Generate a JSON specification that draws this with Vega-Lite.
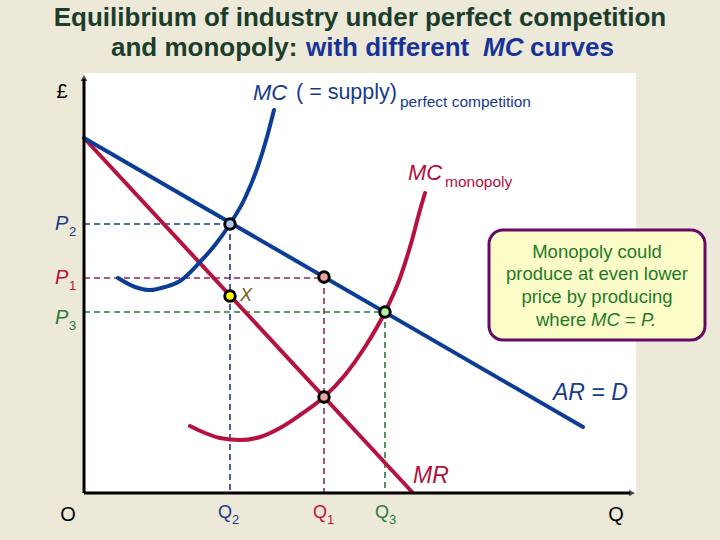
{
  "$schema": "https://vega.github.io/schema/vega-lite/v6.json",
  "width": 720,
  "height": 540,
  "autosize": {"type": "none"},
  "padding": 0,
  "background": "#ece9d8",
  "config": {"view": {"stroke": null}, "font": "Liberation Sans", "text": {"font": "Liberation Sans", "baseline": "middle"}},
  "datasets": {
    "area": [{"q": 0, "p": 0, "q2": 552, "p2": 420}],
    "ar": [{"q": 0, "p": 355}, {"q": 499, "p": 66}],
    "mr": [{"q": 0, "p": 355}, {"q": 329, "p": 0}],
    "mcpc": [
      {"q": 34, "p": 215}, {"q": 51, "p": 206}, {"q": 66, "p": 203}, {"q": 81, "p": 206},
      {"q": 96, "p": 212}, {"q": 116, "p": 231}, {"q": 131, "p": 248}, {"q": 146, "p": 269},
      {"q": 161, "p": 295}, {"q": 174, "p": 327}, {"q": 183, "p": 356}, {"q": 190, "p": 383}
    ],
    "mcm": [
      {"q": 106, "p": 67}, {"q": 121, "p": 60}, {"q": 136, "p": 55}, {"q": 156, "p": 53},
      {"q": 176, "p": 56}, {"q": 196, "p": 65}, {"q": 216, "p": 78}, {"q": 240, "p": 96},
      {"q": 261, "p": 118}, {"q": 281, "p": 146}, {"q": 301, "p": 181}, {"q": 316, "p": 215},
      {"q": 328, "p": 253}, {"q": 336, "p": 283}, {"q": 341, "p": 300}
    ]
  },
  "encoding": {
    "x": {"field": "q", "type": "quantitative", "scale": {"domain": [-84, 636], "nice": false, "zero": false}, "axis": null},
    "y": {"field": "p", "type": "quantitative", "scale": {"domain": [-47, 493], "nice": false, "zero": false}, "axis": null}
  },
  "layer": [
    {"data": {"name": "area"}, "mark": {"type": "rect", "fill": "#ffffff"},
     "encoding": {"x2": {"field": "q2"}, "y2": {"field": "p2"}}},

    {"data": {"values": [{"q": 0, "p": 269, "q2": 146, "p2": 269}, {"q": 146, "p": 269, "q2": 146, "p2": 0}]},
     "mark": {"type": "rule", "stroke": "#1a3a8a", "strokeWidth": 1.6, "strokeDash": [6, 4]},
     "encoding": {"x2": {"field": "q2"}, "y2": {"field": "p2"}}},
    {"data": {"values": [{"q": 0, "p": 215, "q2": 240, "p2": 215}, {"q": 240, "p": 215, "q2": 240, "p2": 0}]},
     "mark": {"type": "rule", "stroke": "#8a2a55", "strokeWidth": 1.6, "strokeDash": [6, 4]},
     "encoding": {"x2": {"field": "q2"}, "y2": {"field": "p2"}}},
    {"data": {"values": [{"q": 0, "p": 181, "q2": 301, "p2": 181}, {"q": 301, "p": 181, "q2": 301, "p2": 0}]},
     "mark": {"type": "rule", "stroke": "#2a7a3a", "strokeWidth": 1.6, "strokeDash": [6, 4]},
     "encoding": {"x2": {"field": "q2"}, "y2": {"field": "p2"}}},

    {"data": {"name": "mcm"}, "mark": {"type": "line", "stroke": "#b5123f", "strokeWidth": 4, "interpolate": "monotone", "strokeCap": "round"}},
    {"data": {"name": "mr"}, "mark": {"type": "line", "stroke": "#b5123f", "strokeWidth": 4}},
    {"data": {"name": "mcpc"}, "mark": {"type": "line", "stroke": "#0c3d96", "strokeWidth": 4, "interpolate": "monotone", "strokeCap": "round"}},
    {"data": {"name": "ar"}, "mark": {"type": "line", "stroke": "#0c3d96", "strokeWidth": 4, "strokeCap": "round"}},

    {"data": {"values": [{"q": 0, "p": 0, "q2": 0, "p2": 414}, {"q": 0, "p": 0, "q2": 546, "p2": 0}]},
     "mark": {"type": "rule", "stroke": "#000000", "strokeWidth": 3},
     "encoding": {"x2": {"field": "q2"}, "y2": {"field": "p2"}}},
    {"data": {"values": [{"q": 0, "p": 415}]},
     "mark": {"type": "point", "shape": "triangle-up", "filled": true, "color": "#000000", "size": 45}},
    {"data": {"values": [{"q": 548, "p": 0}]},
     "mark": {"type": "point", "shape": "triangle-right", "filled": true, "color": "#000000", "size": 45}},

    {"data": {"values": [{"q": 146, "p": 269}]},
     "mark": {"type": "point", "filled": true, "fill": "#a9c9f2", "stroke": "#000000", "strokeWidth": 3, "size": 110, "opacity": 1}},
    {"data": {"values": [{"q": 240, "p": 216}, {"q": 240, "p": 96}]},
     "mark": {"type": "point", "filled": true, "fill": "#eba3a3", "stroke": "#000000", "strokeWidth": 3, "size": 110, "opacity": 1}},
    {"data": {"values": [{"q": 146, "p": 197}]},
     "mark": {"type": "point", "filled": true, "fill": "#ffff00", "stroke": "#000000", "strokeWidth": 3, "size": 110, "opacity": 1}},
    {"data": {"values": [{"q": 301, "p": 181}]},
     "mark": {"type": "point", "filled": true, "fill": "#b4f0a4", "stroke": "#000000", "strokeWidth": 3, "size": 110, "opacity": 1}},

    {"data": {"values": [{"q": 276, "p": 475, "t": "Equilibrium of  industry under perfect competition"}]},
     "mark": {"type": "text", "align": "center", "fontSize": 26, "fontWeight": "bold", "color": "#1c3d2c"},
     "encoding": {"text": {"field": "t"}}},
    {"data": {"values": [{"q": 27, "p": 445, "t": "and monopoly:"}]},
     "mark": {"type": "text", "align": "left", "fontSize": 26, "fontWeight": "bold", "color": "#1c3d2c"},
     "encoding": {"text": {"field": "t"}}},
    {"data": {"values": [{"q": 222, "p": 445, "t": "with different"}, {"q": 446, "p": 445, "t": "curves"}]},
     "mark": {"type": "text", "align": "left", "fontSize": 26, "fontWeight": "bold", "color": "#1a3399"},
     "encoding": {"text": {"field": "t"}}},
    {"data": {"values": [{"q": 399, "p": 445, "t": "MC"}]},
     "mark": {"type": "text", "align": "left", "fontSize": 26, "fontWeight": "bold", "fontStyle": "italic", "color": "#1a3399"},
     "encoding": {"text": {"field": "t"}}},

    {"data": {"values": [{"q": -22, "p": 401, "t": "£"}, {"q": -16, "p": -22, "t": "O"}, {"q": 532, "p": -22, "t": "Q"}]},
     "mark": {"type": "text", "align": "center", "fontSize": 20, "color": "#000000"},
     "encoding": {"text": {"field": "t"}}},

    {"data": {"values": [{"q": 169, "p": 400, "t": "MC"}]},
     "mark": {"type": "text", "align": "left", "fontSize": 22, "fontStyle": "italic", "color": "#173a8c"},
     "encoding": {"text": {"field": "t"}}},
    {"data": {"values": [{"q": 469, "p": 100, "t": "AR = D"}]},
     "mark": {"type": "text", "align": "left", "fontSize": 23, "fontStyle": "italic", "color": "#173a8c"},
     "encoding": {"text": {"field": "t"}}},
    {"data": {"values": [{"q": 212, "p": 400, "t": "( = supply)"}]},
     "mark": {"type": "text", "align": "left", "fontSize": 21.5, "color": "#173a8c"},
     "encoding": {"text": {"field": "t"}}},
    {"data": {"values": [{"q": 316, "p": 391, "t": "perfect competition"}]},
     "mark": {"type": "text", "align": "left", "fontSize": 15.5, "color": "#173a8c"},
     "encoding": {"text": {"field": "t"}}},

    {"data": {"values": [{"q": 324, "p": 320, "t": "MC"}]},
     "mark": {"type": "text", "align": "left", "fontSize": 22, "fontStyle": "italic", "color": "#b0103c"},
     "encoding": {"text": {"field": "t"}}},
    {"data": {"values": [{"q": 329, "p": 17, "t": "MR"}]},
     "mark": {"type": "text", "align": "left", "fontSize": 23, "fontStyle": "italic", "color": "#b0103c"},
     "encoding": {"text": {"field": "t"}}},
    {"data": {"values": [{"q": 361, "p": 311, "t": "monopoly"}]},
     "mark": {"type": "text", "align": "left", "fontSize": 15.5, "color": "#b0103c"},
     "encoding": {"text": {"field": "t"}}},

    {"data": {"values": [{"q": -29, "p": 269, "t": "P"}]},
     "mark": {"type": "text", "align": "left", "fontSize": 20, "fontStyle": "italic", "color": "#173a8c"},
     "encoding": {"text": {"field": "t"}}},
    {"data": {"values": [{"q": -15, "p": 261, "t": "2"}, {"q": 148, "p": -27, "t": "2"}]},
     "mark": {"type": "text", "align": "left", "fontSize": 13, "color": "#173a8c"},
     "encoding": {"text": {"field": "t"}}},
    {"data": {"values": [{"q": 134, "p": -20, "t": "Q"}]},
     "mark": {"type": "text", "align": "left", "fontSize": 18, "color": "#173a8c"},
     "encoding": {"text": {"field": "t"}}},

    {"data": {"values": [{"q": -29, "p": 215, "t": "P"}]},
     "mark": {"type": "text", "align": "left", "fontSize": 20, "fontStyle": "italic", "color": "#c0103a"},
     "encoding": {"text": {"field": "t"}}},
    {"data": {"values": [{"q": -15, "p": 207, "t": "1"}, {"q": 243, "p": -27, "t": "1"}]},
     "mark": {"type": "text", "align": "left", "fontSize": 13, "color": "#c0103a"},
     "encoding": {"text": {"field": "t"}}},
    {"data": {"values": [{"q": 229, "p": -20, "t": "Q"}]},
     "mark": {"type": "text", "align": "left", "fontSize": 18, "color": "#c0103a"},
     "encoding": {"text": {"field": "t"}}},

    {"data": {"values": [{"q": -29, "p": 175, "t": "P"}]},
     "mark": {"type": "text", "align": "left", "fontSize": 20, "fontStyle": "italic", "color": "#2a7a3a"},
     "encoding": {"text": {"field": "t"}}},
    {"data": {"values": [{"q": -15, "p": 167, "t": "3"}, {"q": 305, "p": -27, "t": "3"}]},
     "mark": {"type": "text", "align": "left", "fontSize": 13, "color": "#2a7a3a"},
     "encoding": {"text": {"field": "t"}}},
    {"data": {"values": [{"q": 291, "p": -20, "t": "Q"}]},
     "mark": {"type": "text", "align": "left", "fontSize": 18, "color": "#2a7a3a"},
     "encoding": {"text": {"field": "t"}}},

    {"data": {"values": [{"q": 156, "p": 197, "t": "X"}]},
     "mark": {"type": "text", "align": "left", "fontSize": 18, "fontStyle": "italic", "color": "#7a5a1a"},
     "encoding": {"text": {"field": "t"}}},

    {"data": {"values": [{"q": 405, "p": 263, "q2": 621, "p2": 153}]},
     "mark": {"type": "rect", "fill": "#fcfcc8", "stroke": "#660a66", "strokeWidth": 3, "cornerRadius": 14},
     "encoding": {"x2": {"field": "q2"}, "y2": {"field": "p2"}}},
    {"data": {"values": [
      {"q": 513, "p": 241, "t": "Monopoly could"},
      {"q": 513, "p": 219, "t": "produce at even lower"},
      {"q": 513, "p": 196, "t": "price by producing"}
    ]},
     "mark": {"type": "text", "align": "center", "fontSize": 18.5, "color": "#1e7a2a"},
     "encoding": {"text": {"field": "t"}}},
    {"data": {"values": [{"q": 452, "p": 173, "t": "where"}, {"q": 541, "p": 173, "t": "="}]},
     "mark": {"type": "text", "align": "left", "fontSize": 18.5, "color": "#1e7a2a"},
     "encoding": {"text": {"field": "t"}}},
    {"data": {"values": [{"q": 507, "p": 173, "t": "MC"}, {"q": 557, "p": 173, "t": "P."}]},
     "mark": {"type": "text", "align": "left", "fontSize": 18.5, "fontStyle": "italic", "color": "#1e7a2a"},
     "encoding": {"text": {"field": "t"}}}
  ]
}
